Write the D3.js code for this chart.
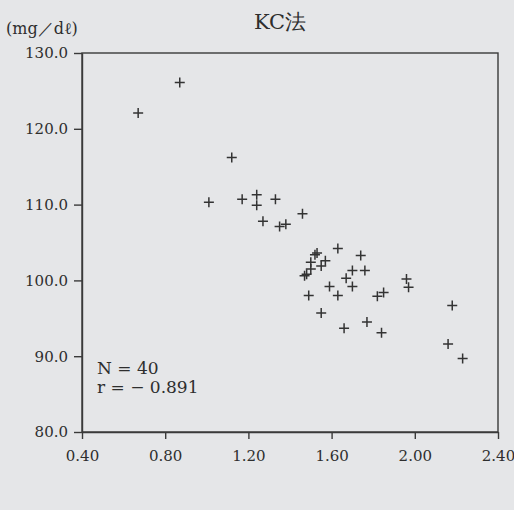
<!DOCTYPE html>
<html>
<head>
<meta charset="utf-8">
<script src="https://cdn.jsdelivr.net/npm/d3@7"></script>
<style>
html,body{margin:0;padding:0;background:#e5e6e8;}
svg{display:block;}
text{font-family:"DejaVu Serif","Liberation Serif",serif;fill:#2e2e2e;}
</style>
</head>
<body>
<svg id="chart" width="514" height="510"></svg>
<script>
const title = "KC法";
const yUnit = "(mg／dℓ)";
const xTicks = [0.40, 0.80, 1.20, 1.60, 2.00, 2.40];
const yTicks = [80, 90, 100, 110, 120, 130];
const xValues = [0.67,0.87,1.12,1.01,1.17,1.24,1.24,1.33,1.27,1.35,1.38,1.46,
  1.63,1.74,1.53,1.52,1.57,1.55,1.50,1.50,1.48,1.70,1.76,1.67,1.59,1.70,1.49,1.63,
  1.82,1.85,1.96,1.97,1.55,1.66,1.77,1.84,2.18,2.16,2.23,1.47];
const yValues = [122.1,126.1,116.2,110.3,110.7,111.3,109.9,110.7,107.8,107.1,107.4,108.8,
  104.2,103.3,103.6,103.4,102.6,101.9,102.4,101.5,100.8,101.3,101.3,100.3,99.2,99.2,98.0,98.0,
  97.9,98.4,100.2,99.1,95.7,93.7,94.5,93.1,96.7,91.6,89.7,100.6];
const annotations = ["N = 40", "r = − 0.891"];

const svg = d3.select("#chart");
const m = {left:82, top:53, right:16, bottom:78};
const W = 514 - m.left - m.right, H = 510 - m.top - m.bottom;
const x = d3.scaleLinear().domain([0.40, 2.40]).range([0, W]);
const y = d3.scaleLinear().domain([80, 130]).range([H, 0]);
const g = svg.append("g").attr("transform", `translate(${m.left},${m.top})`);
const ink = "#3a3a3a";

g.append("rect").attr("width", W).attr("height", H)
  .attr("fill", "none").attr("stroke", ink).attr("stroke-width", 1.4);

const xa = g.append("g").attr("transform", `translate(0,${H})`)
  .call(d3.axisBottom(x).tickValues(xTicks).tickFormat(d3.format(".2f")).tickSize(7).tickSizeOuter(0));
const ya = g.append("g")
  .call(d3.axisLeft(y).tickValues(yTicks).tickFormat(d3.format(".1f")).tickSize(8).tickSizeOuter(0));
[xa, ya].forEach(a => {
  a.select(".domain").attr("stroke", ink).attr("stroke-width", 1.4);
  a.selectAll(".tick line").attr("stroke", ink).attr("stroke-width", 1.4);
  a.selectAll(".tick text").attr("font-size", 15).attr("fill", "#2a2a2a")
    .style("font-family", '"DejaVu Serif",serif');
});
xa.selectAll(".tick text").attr("dy", "1.25em");
ya.selectAll(".tick text").attr("x", -14);

const pts = xValues.map((v, i) => [v, yValues[i]]);
g.append("g").selectAll("path").data(pts).join("path")
  .attr("d", d => { const px = x(d[0]), py = y(d[1]); return `M${px-5},${py}H${px+5}M${px},${py-5}V${py+5}`; })
  .attr("stroke", "#333").attr("stroke-width", 1.5).attr("fill", "none");

svg.append("text").attr("x", 280).attr("y", 29).attr("text-anchor", "middle")
  .attr("font-size", 21).text(title);
svg.append("text").attr("x", 6).attr("y", 34).attr("font-size", 16).text(yUnit);

g.append("text").attr("x", 15).attr("y", y(87.7)).attr("font-size", 17).text(annotations[0]);
g.append("text").attr("x", 15).attr("y", y(85.2)).attr("font-size", 17).text(annotations[1]);
</script>
</body>
</html>
